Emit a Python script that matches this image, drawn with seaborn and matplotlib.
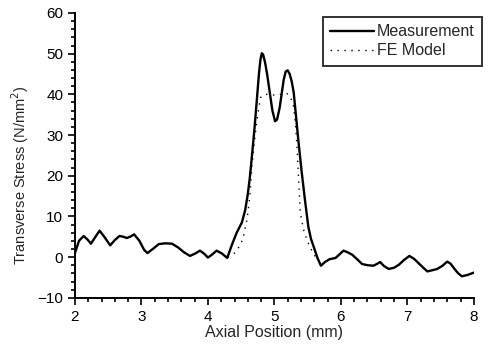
import matplotlib
matplotlib.use("Agg")
import matplotlib.pyplot as plt
import seaborn as sns
import pandas as pd
from matplotlib.ticker import MultipleLocator

meas_x = [2.00, 2.06, 2.13, 2.19, 2.24, 2.30, 2.37, 2.45, 2.53, 2.60, 2.67, 2.73,
          2.78, 2.84, 2.89, 2.97, 3.04, 3.09, 3.17, 3.26, 3.36, 3.46, 3.55, 3.64,
          3.73, 3.81, 3.88, 3.94, 4.00, 4.06, 4.13, 4.21, 4.29, 4.36, 4.43, 4.51,
          4.56, 4.60, 4.63, 4.66, 4.70, 4.74, 4.77, 4.79, 4.81, 4.83, 4.86, 4.89,
          4.93, 4.97, 5.01, 5.04, 5.08, 5.11, 5.14, 5.17, 5.20, 5.23, 5.26, 5.29,
          5.32, 5.36, 5.41, 5.46, 5.51, 5.55, 5.59, 5.65, 5.70, 5.76, 5.83, 5.92,
          5.98, 6.04, 6.10, 6.17, 6.25, 6.32, 6.41, 6.49, 6.55, 6.59, 6.65, 6.72,
          6.80, 6.87, 6.95, 7.03, 7.10, 7.17, 7.24, 7.30, 7.38, 7.45, 7.53, 7.60,
          7.65, 7.70, 7.76, 7.82, 7.90, 8.00]
meas_y = [1.0, 4.0, 5.2, 4.3, 3.3, 4.8, 6.5, 4.8, 2.9, 4.2, 5.2, 5.0,
          4.7, 5.1, 5.6, 4.0, 1.8, 1.0, 2.0, 3.2, 3.4, 3.3, 2.4, 1.2,
          0.3, 0.9, 1.6, 0.9, -0.1, 0.6, 1.6, 0.9, -0.2, 3.0, 5.9, 8.5,
          11.5, 15.5, 19.5, 24.5, 31.5, 39.5, 45.5, 48.5, 50.1, 49.8, 47.8, 45.0,
          40.5, 36.0, 33.4, 33.8, 36.8, 40.2, 43.6, 45.6, 45.9, 45.0, 43.2, 40.5,
          35.5, 28.7, 21.0, 14.0, 7.5, 4.5, 2.6, -0.3, -2.1, -1.2, -0.5, -0.2,
          0.7, 1.6, 1.2, 0.6, -0.6, -1.7, -2.0, -2.1, -1.6, -1.2, -2.2, -2.9,
          -2.6, -1.9, -0.7, 0.3, -0.4, -1.5, -2.6, -3.5, -3.2, -2.9, -2.1, -1.1,
          -1.6, -2.7, -3.9, -4.7, -4.4, -3.8]

# FE model, only distinct from the measurement around the peak
fe_x = [4.30, 4.40, 4.48, 4.53, 4.59, 4.63, 4.66, 4.70, 4.74, 4.79, 4.85, 4.91,
        5.01, 5.10, 5.19, 5.25, 5.29, 5.32, 5.34, 5.36, 5.39, 5.44, 5.49, 5.55, 5.62]
fe_y = [0.0, 1.0, 2.8, 4.7, 9.5, 14.9, 22.0, 28.5, 34.0, 39.2, 40.0, 40.0,
        39.8, 40.0, 40.2, 39.0, 36.9, 32.0, 27.0, 20.6, 10.8, 6.7, 4.2, 2.0, 0.0]

sns.set_style("ticks")
plt.rcParams["font.family"] = ["Liberation Sans", "DejaVu Sans"]

meas = pd.DataFrame({"x": meas_x, "y": meas_y})
fe = pd.DataFrame({"x": fe_x, "y": fe_y})

fig = plt.figure(figsize=(4.9, 3.5), dpi=100)
ax = fig.add_axes([0.153, 0.149, 0.814, 0.814])

sns.lineplot(data=meas, x="x", y="y", ax=ax, color="black", linewidth=1.7,
             label="Measurement")
sns.lineplot(data=fe, x="x", y="y", ax=ax, color="black", linewidth=1.0,
             linestyle=(0, (1, 4)), label="FE Model")

ax.set_xlim(2, 8)
ax.set_ylim(-10, 60)
ax.xaxis.set_major_locator(MultipleLocator(1))
ax.xaxis.set_minor_locator(MultipleLocator(0.2))
ax.yaxis.set_major_locator(MultipleLocator(10))
ax.yaxis.set_minor_locator(MultipleLocator(2))
ax.tick_params(which="both", direction="out", color="black", width=1.2,
               labelsize=11, labelcolor="black")
ax.tick_params(which="major", length=5)
ax.tick_params(which="minor", length=3)
for s in ["top", "right"]:
    ax.spines[s].set_visible(False)
for s in ["left", "bottom"]:
    ax.spines[s].set_color("black")
    ax.spines[s].set_linewidth(1.4)

ax.set_xlabel("Axial Position (mm)", fontsize=11.5, labelpad=1)
ax.set_ylabel("Transverse Stress (N/mm$^2$)", fontsize=10.5)
ax.yaxis.set_label_coords(-0.11, 0.43)

leg = ax.legend(loc="upper right", bbox_to_anchor=(1.02, 0.985), fontsize=11.5,
                frameon=True, fancybox=False, handlelength=2.8,
                borderpad=0.45, labelspacing=0.25, handletextpad=0.15,
                borderaxespad=0.0)
leg.get_frame().set_edgecolor("black")
leg.get_frame().set_linewidth(1.4)

fig.savefig("out.png", dpi=100)
